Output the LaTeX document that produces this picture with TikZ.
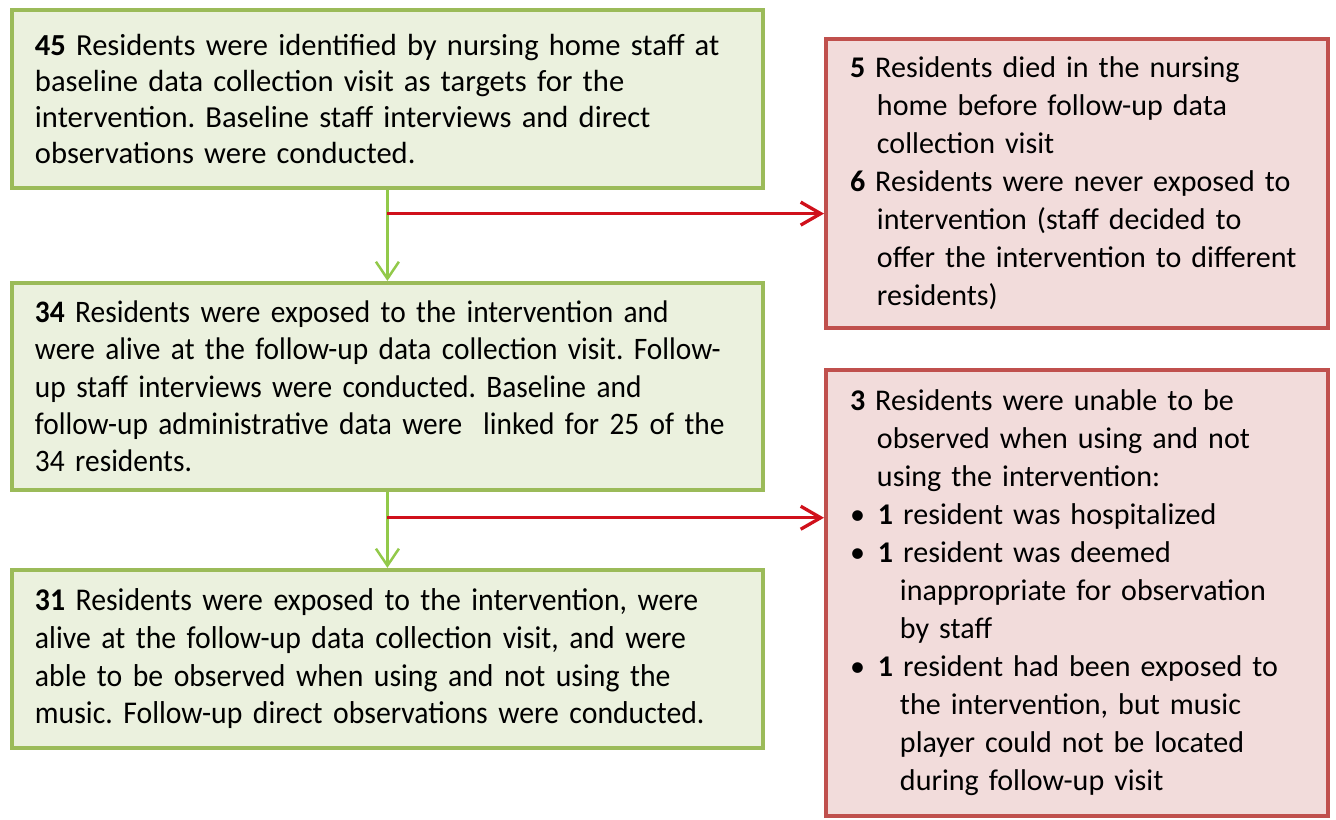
\documentclass[tikz,border=0pt]{standalone}
\usepackage{fontspec}
\setmainfont{Carlito}
\newfontfamily\narrowfont[FakeStretch=0.94]{Carlito}
\usetikzlibrary{arrows.meta,positioning,calc}
\definecolor{KeptLine}{HTML}{9BBB59}
\definecolor{KeptFill}{HTML}{EBF1DE}
\definecolor{DropLine}{HTML}{C0504D}
\definecolor{DropFill}{HTML}{F2DCDB}
\definecolor{KeptArrow}{HTML}{92C94A}
\definecolor{DropArrow}{HTML}{D0101B}
\frenchspacing
\tikzset{
  keptbox/.style={
    rectangle, draw=KeptLine, fill=KeptFill, line width=0.08cm,
    minimum width=15.02cm, text width=14.1cm, inner xsep=0.46cm,
    align=left, font=\fontsize{17.4}{20.6}\selectfont
  },
  dropbox/.style={
    rectangle, draw=DropLine, fill=DropFill, line width=0.08cm,
    minimum width=10.04cm, text width=9.08cm, inner xsep=0.48cm,
    align=left, font=\fontsize{17.1}{21.6}\selectfont
  },
  keptarrow/.style={-{Straight Barb[length=0.34cm,width=0.46cm]}, KeptArrow, line width=0.05cm},
  droparrow/.style={-{Straight Barb[length=0.4cm,width=0.46cm]}, DropArrow, line width=0.066cm},
}

\begin{document}
\begin{tikzpicture}[x=0.02cm, y=-0.02cm]
    \useasboundingbox (0,0) rectangle (1336,820);
    \node[keptbox, minimum height=3.56cm, anchor=north west] (B1) at (10,8)
      {\textbf{45} Residents were identified by nursing home staff at\\baseline data collection visit as targets for the\\intervention. Baseline staff interviews and direct\\observations were conducted.};
    \node[keptbox, minimum height=4.14cm, below=1.82cm of B1, font=\narrowfont\fontsize{17.8}{21.2}\selectfont] (B2)
      {\textbf{34} Residents were exposed to the intervention and\\were alive at the follow-up data collection visit. Follow-\\up staff interviews were conducted. Baseline and\\follow-up administrative data were\ \ linked for 25 of the\\34 residents.};
    \node[keptbox, minimum height=3.56cm, below=1.52cm of B2, font=\narrowfont\fontsize{18}{21.4}\selectfont] (B3)
      {\textbf{31} Residents were exposed to the intervention, were\\alive at the follow-up data collection visit, and were\\able to be observed when using and not using the\\music. Follow-up direct observations were conducted.};
    \node[dropbox, minimum height=5.78cm, anchor=north west] (R1) at (824,37)
      {{\hangindent=0.54cm\hangafter=1 \textbf{5} Residents died in the nursing\newline home before follow-up data\newline collection visit\par}
       {\hangindent=0.54cm\hangafter=1 \textbf{6} Residents were never exposed to\newline intervention (staff decided to\newline offer the intervention to different\newline residents)\par}};
    \node[dropbox, minimum height=8.92cm, below=0.76cm of R1] (R2)
      {{\hangindent=0.54cm\hangafter=1 \textbf{3} Residents were unable to be\newline observed when using and not\newline using the intervention:\par}
       {\hangindent=1.0cm\hangafter=1 \makebox[0.56cm][l]{\textbullet}\textbf{1} resident was hospitalized\par}
       {\hangindent=1.0cm\hangafter=1 \makebox[0.56cm][l]{\textbullet}\textbf{1} resident was deemed\newline inappropriate for observation\newline by staff\par}
       {\hangindent=1.0cm\hangafter=1 \makebox[0.56cm][l]{\textbullet}\textbf{1} resident had been exposed to\newline the intervention, but music\newline player could not be located\newline during follow-up visit\par}};
    \coordinate (J1) at ($(B1.south)!0.26!(B2.north)$);
    \coordinate (J2) at ($(B2.south)!0.34!(B3.north)$);
    \draw[keptarrow] (B1) -- (B2);
    \draw[keptarrow] (B2) -- (B3);
    \draw[droparrow] (J1) -- (J1 -| R1.west);
    \draw[droparrow] (J2) -- (J2 -| R2.west);
  \end{tikzpicture}
\end{document}
